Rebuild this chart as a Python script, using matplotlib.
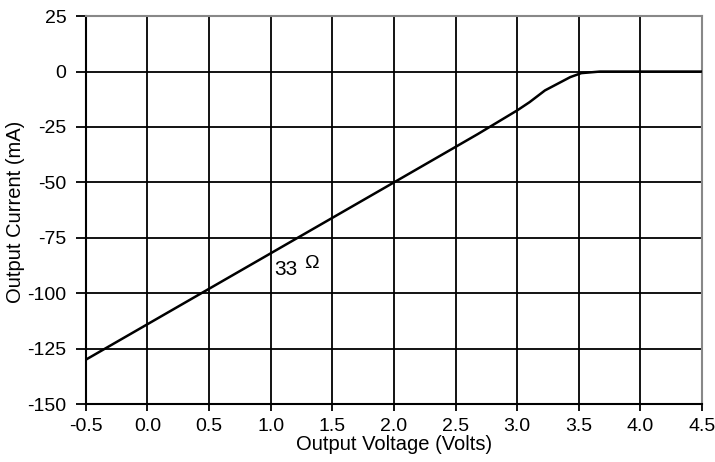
import matplotlib.pyplot as plt

plt.rcParams['font.family'] = ['Liberation Sans', 'DejaVu Sans']
plt.rcParams['axes.unicode_minus'] = False

# output voltage (V) vs output current (mA)
volts = [-0.5, 2.0, 2.68, 3.0, 3.1, 3.225, 3.43, 3.52, 3.67, 4.5]
amps = [-130, -50, -28.2, -17.5, -13.8, -8.5, -2.5, -0.7, 0.0, 0.0]

xticks = [-0.5, 0.0, 0.5, 1.0, 1.5, 2.0, 2.5, 3.0, 3.5, 4.0, 4.5]
yticks = [25, 0, -25, -50, -75, -100, -125, -150]

fig = plt.figure(figsize=(7.15, 4.62), dpi=100)
ax = fig.add_axes([0.120, 0.1255, 0.862, 0.8395])

ax.plot(volts, amps, color='black', lw=1.8, zorder=3)
ax.text(1.03, -89.5, '33', fontsize=15, va='center', ha='left')
ax.text(1.27, -86.5, '\u03a9', fontsize=14, va='center', ha='left')

ax.set_xlim(-0.5, 4.5)
ax.set_ylim(-150, 25)
ax.set_xticks(xticks)
ax.set_xticklabels([f'{v:.1f}' for v in xticks])
ax.set_yticks(yticks)
ax.grid(True, color='black', lw=1.3)
ax.tick_params(direction='out', width=1.3, labelsize=14, colors='black')
ax.tick_params(axis='x', length=5, pad=5)
ax.tick_params(axis='y', length=7, pad=7)

for s in ['left', 'bottom']:
    ax.spines[s].set_linewidth(1.5)
for s in ['top', 'right']:
    ax.spines[s].set_color('#888888')
    ax.spines[s].set_linewidth(1.5)

ax.set_xlabel('Output Voltage (Volts)', fontsize=14.5, labelpad=0)
ax.set_ylabel('Output Current (mA)', fontsize=14.5)
ax.yaxis.set_label_coords(-0.099, 0.495)

fig.savefig('out.png', dpi=100)
